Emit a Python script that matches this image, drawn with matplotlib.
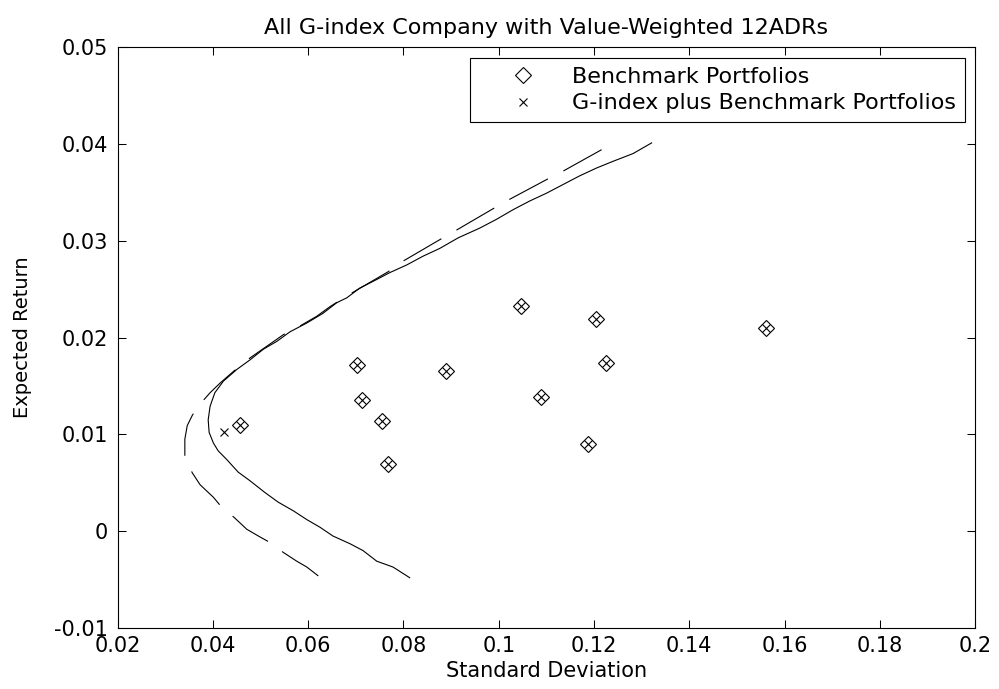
import matplotlib
matplotlib.use('Agg')
import matplotlib.pyplot as plt

# benchmark portfolios (std dev, expected return)
bench_std = [0.0457, 0.0702, 0.0713, 0.0755, 0.0768, 0.0889,
             0.1046, 0.1088, 0.1188, 0.1204, 0.1225, 0.1562]
bench_ret = [0.0110, 0.0172, 0.0135, 0.0114, 0.0069, 0.0165,
             0.0233, 0.0139, 0.0090, 0.0219, 0.0174, 0.0210]

# G-index company added to the benchmark set
gidx_std = bench_std + [0.0423]
gidx_ret = bench_ret + [0.0102]

# frontier of G-index plus benchmark (solid)
front_std = [0.1321, 0.1282, 0.1240, 0.1205, 0.1170, 0.1135, 0.1100, 0.1065,
             0.1030, 0.0995, 0.0960, 0.0915, 0.0876, 0.0841, 0.0807, 0.0771,
             0.0744, 0.0708, 0.0681, 0.0660, 0.0631, 0.0597, 0.0562, 0.0534,
             0.0506, 0.0478, 0.0450, 0.0422, 0.0404, 0.0394, 0.0390, 0.0392,
             0.0401, 0.0411, 0.0429, 0.0453, 0.0478, 0.0509, 0.0537, 0.0569,
             0.0597, 0.0625, 0.0652, 0.0688, 0.0715, 0.0744, 0.0778, 0.0813]
front_ret = [0.0401, 0.0390, 0.0382, 0.0375, 0.0367, 0.0358, 0.0349, 0.0341,
             0.0332, 0.0322, 0.0313, 0.0303, 0.0292, 0.0284, 0.0275, 0.0267,
             0.0260, 0.0251, 0.0241, 0.0236, 0.0225, 0.0215, 0.0206, 0.0196,
             0.0188, 0.0177, 0.0167, 0.0155, 0.0143, 0.0129, 0.0115, 0.0102,
             0.0091, 0.0083, 0.0074, 0.0061, 0.0052, 0.0040, 0.0030, 0.0021,
             0.0012, 0.0004, -0.0005, -0.0013, -0.0020, -0.0031, -0.0037, -0.0048]

# frontier of benchmark only (dashed)
bfront_std = [0.1216, 0.1132, 0.1100, 0.1020, 0.0988, 0.0908, 0.0876, 0.0796,
              0.0768, 0.0688, 0.0646, 0.0618, 0.0583, 0.0548, 0.0513, 0.0478,
              0.0443, 0.0415, 0.0394, 0.0376, 0.0357, 0.0346, 0.0341, 0.0341,
              0.0357, 0.0373, 0.0401, 0.0418, 0.0445, 0.0471, 0.0499, 0.0521,
              0.0548, 0.0576, 0.0597, 0.0626]
bfront_ret = [0.0394, 0.0371, 0.0363, 0.0342, 0.0333, 0.0310, 0.0301, 0.0278,
              0.0268, 0.0245, 0.0232, 0.0222, 0.0212, 0.0203, 0.0191, 0.0179,
              0.0165, 0.0153, 0.0143, 0.0133, 0.0120, 0.0109, 0.0095, 0.0075,
              0.0060, 0.0048, 0.0035, 0.0025, 0.0014, 0.0002, -0.0006, -0.0012,
              -0.0022, -0.0031, -0.0037, -0.0048]

xticks = [0.02, 0.04, 0.06, 0.08, 0.1, 0.12, 0.14, 0.16, 0.18, 0.2]
xtick_labels = ['0.02', '0.04', '0.06', '0.08', '0.1', '0.12', '0.14', '0.16', '0.18', '0.2']
yticks = [-0.01, 0, 0.01, 0.02, 0.03, 0.04, 0.05]
ytick_labels = ['-0.01', '0', '0.01', '0.02', '0.03', '0.04', '0.05']

plt.rcParams['font.family'] = ['DejaVu Sans']
plt.rcParams['font.size'] = 15
plt.rcParams['lines.scale_dashes'] = False

fig = plt.figure(figsize=(9.99, 6.89), dpi=100)
ax = fig.add_axes([0.1178, 0.0885, 0.8582, 0.8432])

ax.plot(front_std, front_ret, '-', color='black', lw=0.8)
ax.plot(bfront_std, bfront_ret, color='black', lw=0.8, dashes=(31.5, 12.5))

ax.plot(bench_std, bench_ret, 'D', color='black', mfc='none', ms=8, mew=0.8,
        label='Benchmark Portfolios')
ax.plot(gidx_std, gidx_ret, 'x', color='black', ms=5.7, mew=0.8,
        label='G-index plus Benchmark Portfolios')

ax.set_xlim(0.02, 0.2)
ax.set_ylim(-0.01, 0.05)
ax.set_xticks(xticks)
ax.set_xticklabels(xtick_labels)
ax.set_yticks(yticks)
ax.set_yticklabels(ytick_labels)
ax.tick_params(direction='in', length=6, width=0.75, top=True, right=True)
ax.tick_params(axis='x', pad=6)
ax.tick_params(axis='y', pad=7)
for s in ax.spines.values():
    s.set_linewidth(0.8)

ax.set_title('All G-index Company with Value-Weighted 12ADRs', fontsize=16, pad=9.5)
ax.set_xlabel('Standard Deviation', labelpad=3)
ax.set_ylabel('Expected Return', fontsize=14, labelpad=16)

leg = ax.legend(loc='upper right', bbox_to_anchor=(0.9883, 0.981), borderaxespad=0,
                fancybox=False, framealpha=1, edgecolor='black', numpoints=1,
                borderpad=0.4, handlelength=4.0, handletextpad=0.21,
                labelspacing=0.29, fontsize=16)
leg.get_frame().set_linewidth(0.8)

plt.savefig('out.png', dpi=100)
